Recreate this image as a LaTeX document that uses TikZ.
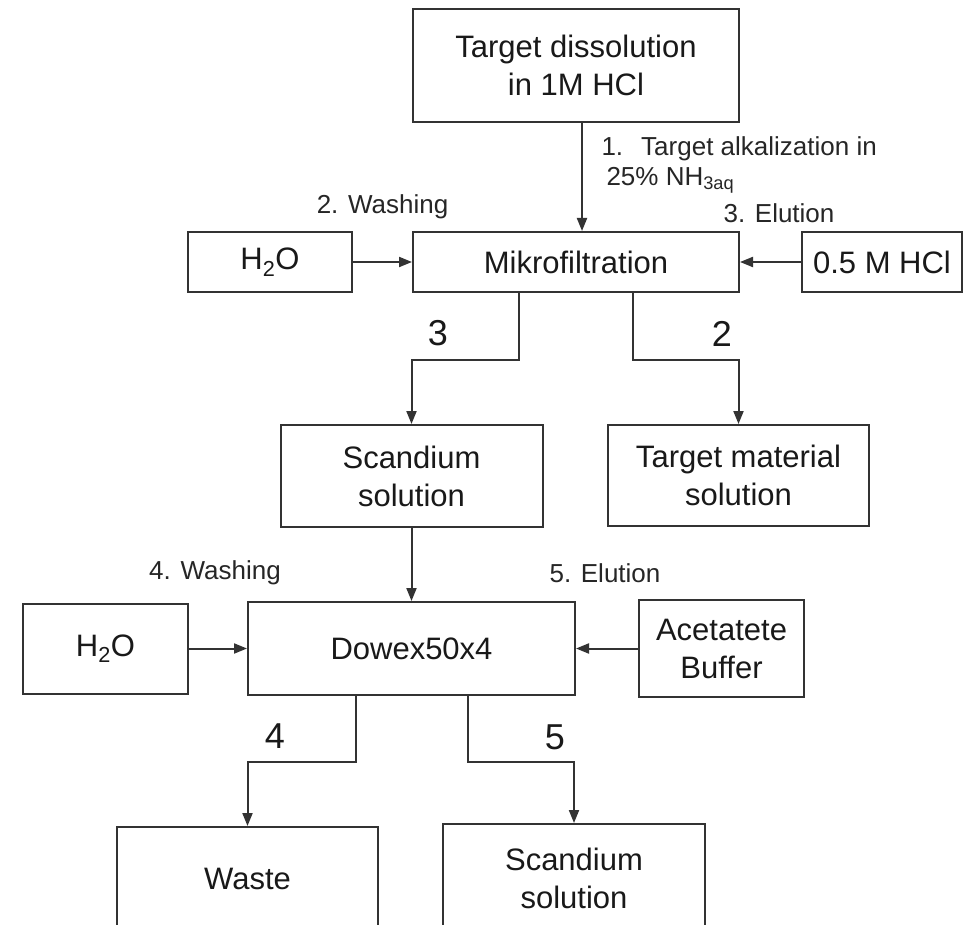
\documentclass[tikz,border=0pt]{standalone}
\usepackage{fontspec}
\setmainfont{Liberation Sans}
\usetikzlibrary{arrows.meta}

\begin{document}
\begin{tikzpicture}[x=1pt,y=-1pt,
	box/.style={draw=black!80,line width=2pt,fill=white,inner sep=0pt,align=center,text=black!90,font=\fontsize{31}{38}\selectfont},
	stepnum/.style={text=black!90,font=\fontsize{36}{40}\selectfont},
	steplabel/.style={text=black!85,font=\fontsize{26}{30}\selectfont},
	flow/.style={draw=black!80,line width=2pt,-{Triangle[length=13pt,width=10pt]}}]
	\useasboundingbox (0,0) rectangle (963,925);
	\fill[white] (0,0) rectangle (963,925);
	\clip (0,0) rectangle (963,925);

	% boxes
	\node[box,minimum width=326,minimum height=113] (target) at (576,65.5) {Target dissolution\\in 1M HCl};
	\node[box,minimum width=326,minimum height=60] (mikro) at (576,262) {Mikrofiltration};
	\node[box,minimum width=164,minimum height=60] (water1) at (270,262) {H\textsubscript{2}O};
	\node[box,minimum width=160,minimum height=60] (hcl) at (882,262) {0.5 M HCl};
	\node[box,minimum width=262,minimum height=102] (scsol) at (411.5,476) {Scandium\\solution};
	\node[box,minimum width=261,minimum height=101] (tmsol) at (738.5,475.5) {Target material\\solution};
	\node[box,minimum width=327,minimum height=93] (dowex) at (411.5,648.5) {Dowex50x4};
	\node[box,minimum width=165,minimum height=90] (water2) at (105.5,648.5) {H\textsubscript{2}O};
	\node[box,minimum width=165,minimum height=97] (acet) at (721.5,648.5) {Acetatete\\Buffer};
	\node[box,minimum width=261,minimum height=104] (waste) at (247.5,879) {Waste};
	\node[box,minimum width=262,minimum height=108] (scsol2) at (574,878) {Scandium\\solution};

	% step labels
	\node[steplabel,anchor=west,align=left] (alk) at (598,165) {1.\hspace{18pt}Target alkalization in\\\hspace*{5pt}25\% NH\textsubscript{3aq}};
	\node[steplabel] (wash1) at (382.5,207) {2. Washing};
	\node[steplabel] (elu1) at (779,213) {3. Elution};
	\node[stepnum] (n3) at (438,333) {3};
	\node[stepnum] (n2) at (722,334) {2};
	\node[steplabel] (wash2) at (215,573) {4. Washing};
	\node[steplabel] (elu2) at (605,573) {5. Elution};
	\node[stepnum] (n4) at (275,736) {4};
	\node[stepnum] (n5) at (555,737) {5};

	% flow
	\draw[flow] ([xshift=6]target.south) -- ([xshift=6]mikro.north);
	\draw[flow] (water1) -- (mikro);
	\draw[flow] (hcl) -- (mikro);
	\draw[flow] ([xshift=-57]mikro.south) -- ++(0,67) -| (scsol.north);
	\draw[flow] ([xshift=57]mikro.south) -- ++(0,67) -| (tmsol.north);
	\draw[flow] (scsol) -- (dowex);
	\draw[flow] (water2) -- (dowex);
	\draw[flow] (acet) -- (dowex);
	\draw[flow] ([xshift=-55.5]dowex.south) -- ++(0,66) -| (waste.north);
	\draw[flow] ([xshift=56.5]dowex.south) -- ++(0,66) -| (scsol2.north);
\end{tikzpicture}
\end{document}
